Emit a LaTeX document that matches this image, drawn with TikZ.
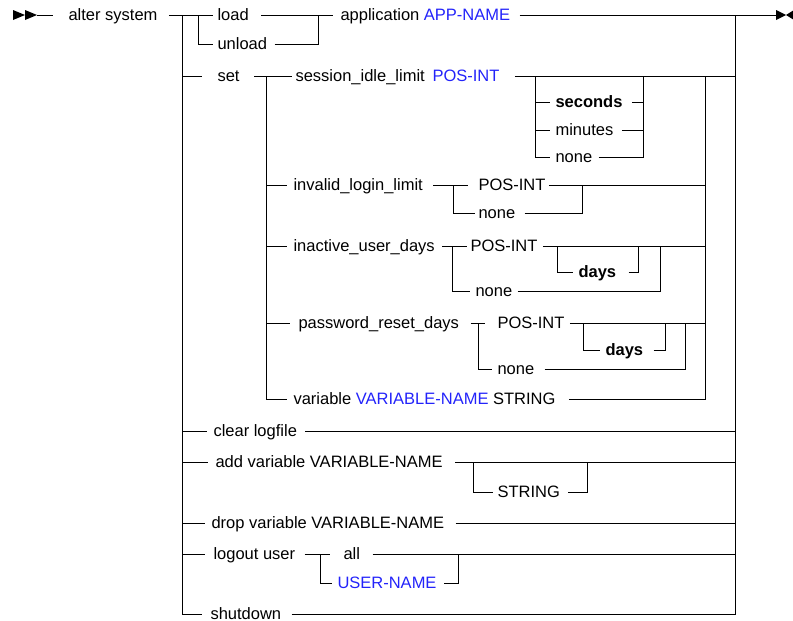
\documentclass[tikz,border=0pt]{standalone}
\usepackage{fontspec}
\setmainfont{Liberation Sans}
\definecolor{kwblue}{RGB}{35,35,250}
\begin{document}
\begin{tikzpicture}[x=1pt,y=-1pt,line width=1pt,
  lbl/.style={anchor=west,inner sep=0pt,text height=11pt,text depth=0pt,font=\fontsize{16.5}{18}\selectfont},
  kwb/.style={lbl,font=\fontsize{16.5}{18}\selectfont\bfseries},
  namelbl/.style={lbl,text=kwblue}]
\useasboundingbox (0,0) rectangle (793,621);
% labels
\node[lbl] (alt) at (68,15) {alter system};
\node[lbl] (load) at (217,15) {load};
\node[lbl] (unload) at (217,44) {unload};
\node[lbl] (app) at (340,15) {application \textcolor{kwblue}{APP-NAME}};
\node[lbl] (set) at (217,76) {set};
\node[lbl] (sil) at (295,76) {session\_idle\_limit};
\node[namelbl] (silv) at (432,76) {POS-INT};
\node[kwb] (sec) at (555,102) {seconds};
\node[lbl] (min) at (555,130) {minutes};
\node[lbl] (snone) at (555,157) {none};
\node[lbl] (ill) at (293,185) {invalid\_login\_limit};
\node[lbl] (illv) at (478,185) {POS-INT};
\node[lbl] (illn) at (478,213) {none};
\node[lbl] (iud) at (293,246) {inactive\_user\_days};
\node[lbl] (iudv) at (470,246) {POS-INT};
\node[kwb] (iudd) at (578,272) {days};
\node[lbl] (iudn) at (475,291) {none};
\node[lbl] (prd) at (298,323) {password\_reset\_days};
\node[lbl] (prdv) at (497,323) {POS-INT};
\node[kwb] (prdd) at (605,350) {days};
\node[lbl] (prdn) at (497,369) {none};
\node[lbl] (svar) at (293,399) {variable \textcolor{kwblue}{VARIABLE-NAME} STRING};
\node[lbl] (clr) at (213,431) {clear logfile};
\node[lbl] (addv) at (215,462) {add variable VARIABLE-NAME};
\node[lbl] (adds) at (497,492) {STRING};
\node[lbl] (drop) at (211,523) {drop variable VARIABLE-NAME};
\node[lbl] (lout) at (213,554) {logout user};
\node[lbl] (all) at (343,554) {all};
\node[namelbl] (uname) at (337,583) {USER-NAME};
\node[lbl] (shut) at (210,614) {shutdown};
% junctions
\coordinate (s0) at (13,15); \coordinate (s1) at (37,15);
\coordinate (L0t) at (182,15); \coordinate (L0b) at (182,614);
\coordinate (R0t) at (735,15); \coordinate (R0b) at (735,614);
\coordinate (lbB) at (198,44); \coordinate (lmB) at (318,44); \coordinate (lmT) at (318,15);
\coordinate (sbT) at (266,76); \coordinate (sbB) at (266,399); \coordinate (smB) at (705,399);
\coordinate (ssT) at (535,76); \coordinate (ssB) at (535,157); \coordinate (seT) at (643,76); \coordinate (seB) at (643,157);
\coordinate (ivT) at (453,185); \coordinate (ivB) at (453,213); \coordinate (imT) at (582,185); \coordinate (imB) at (582,213);
\coordinate (naT) at (452,246); \coordinate (naB) at (452,291);
\coordinate (ndL) at (557,246); \coordinate (ndLB) at (557,272); \coordinate (ndR) at (638,246); \coordinate (ndRB) at (638,272);
\coordinate (nmT) at (660,246); \coordinate (nmB) at (660,291);
\coordinate (pbT) at (478,323); \coordinate (pbB) at (478,369);
\coordinate (pdL) at (583,323); \coordinate (pdLB) at (583,350); \coordinate (pdR) at (665,323); \coordinate (pdRB) at (665,350);
\coordinate (pmT) at (685,323); \coordinate (pmB) at (685,369);
\coordinate (aoL) at (473,462); \coordinate (aoLB) at (473,492); \coordinate (aoR) at (587,462); \coordinate (aoRB) at (587,492);
\coordinate (loT) at (320,554); \coordinate (loB) at (320,583); \coordinate (lmT2) at (458,554); \coordinate (lmB2) at (458,583);
\coordinate (endA) at (776,15);
% start and end markers
\fill (s0) ++(0,-5) -- ++(12,5) -- ++(-12,5) -- cycle;
\fill (s0) ++(12,-5) -- ++(12,5) -- ++(-12,5) -- cycle;
\draw[shorten >=15pt] (s1) -- (alt.west);
\fill (endA) ++(0,-5) -- ++(10,5) -- ++(-10,5) -- cycle;
\fill (endA) ++(18,-5) -- ++(-8,5) -- ++(8,5) -- cycle;
% row load/unload
\draw[shorten <=11pt,shorten >=4pt] (alt.east) -- (load.west);
\draw[shorten >=4pt] (L0t -| lbB) -- (lbB) -- (unload.west);
\draw[shorten <=12pt,shorten >=7pt] (load.east) -- (app.west);
\draw[shorten <=7pt] (unload.east) -- (lmB) -- (lmT);
\draw[shorten <=9pt] (app.east) -- (endA);
% rails
\draw[shorten >=8pt] (L0t) -- (L0b) -- (shut.west);
\draw[shorten <=10pt] (shut.east) -- (R0b) -- (R0t);
% set
\draw[shorten >=15pt] (L0t |- sbT) -- (set.west);
\draw[shorten <=14pt,shorten >=3pt] (set.east) -- (sil.west);
\draw[shorten <=15pt] (silv.east) -- (R0t |- sbT);
\draw[shorten >=6pt] (sbT) -- (sbB) -- (svar.west);
\draw[shorten <=13pt] (svar.east) -- (smB) -- (smB |- sbT);
% seconds / minutes / none
\draw[shorten >=5pt] (ssT) -- (ssB) -- (snone.west);
\draw[shorten >=5pt] (ssT |- sec.west) -- (sec.west);
\draw[shorten >=5pt] (ssT |- min.west) -- (min.west);
\draw[shorten <=9pt] (sec.east) -- (seT |- sec.east);
\draw[shorten <=8pt] (min.east) -- (seT |- min.east);
\draw[shorten <=6pt] (snone.east) -- (seB) -- (seT);
% invalid_login_limit
\draw[shorten >=6pt] (sbT |- ill.west) -- (ill.west);
\draw[shorten <=10pt,shorten >=10pt] (ill.east) -- (illv.west);
\draw[shorten >=3pt] (ivT) -- (ivB) -- (illn.west);
\draw[shorten <=3pt] (illv.east) -- (smB |- illv.east);
\draw[shorten <=9pt] (illn.east) -- (imB) -- (imT);
% inactive_user_days
\draw[shorten >=6pt] (sbT |- iud.west) -- (iud.west);
\draw[shorten <=7pt,shorten >=3pt] (iud.east) -- (iudv.west);
\draw[shorten >=5pt] (naT) -- (naB) -- (iudn.west);
\draw[shorten <=5pt] (iudv.east) -- (smB |- iudv.east);
\draw[shorten >=5pt] (ndL) -- (ndLB) -- (iudd.west);
\draw[shorten <=12pt] (iudd.east) -- (ndRB) -- (ndR);
\draw[shorten <=5pt] (iudn.east) -- (nmB) -- (nmT);
% password_reset_days
\draw[shorten >=8pt] (sbT |- prd.west) -- (prd.west);
\draw[shorten <=11pt,shorten >=12pt] (prd.east) -- (prdv.west);
\draw[shorten >=5pt] (pbT) -- (pbB) -- (prdn.west);
\draw[shorten <=5pt] (prdv.east) -- (smB |- prdv.east);
\draw[shorten >=5pt] (pdL) -- (pdLB) -- (prdd.west);
\draw[shorten <=10pt] (prdd.east) -- (pdRB) -- (pdR);
\draw[shorten <=10pt] (prdn.east) -- (pmB) -- (pmT);
% clear logfile
\draw[shorten >=6pt] (L0t |- clr.west) -- (clr.west);
\draw[shorten <=8pt] (clr.east) -- (R0t |- clr.east);
% add variable
\draw[shorten >=7pt] (L0t |- addv.west) -- (addv.west);
\draw[shorten <=12pt] (addv.east) -- (R0t |- addv.east);
\draw[shorten >=4pt] (aoL) -- (aoLB) -- (adds.west);
\draw[shorten <=8pt] (adds.east) -- (aoRB) -- (aoR);
% drop variable
\draw[shorten >=6pt] (L0t |- drop.west) -- (drop.west);
\draw[shorten <=11pt] (drop.east) -- (R0t |- drop.east);
% logout user
\draw[shorten >=8pt] (L0t |- lout.west) -- (lout.west);
\draw[shorten <=9pt,shorten >=13pt] (lout.east) -- (all.west);
\draw[shorten >=5pt] (loT) -- (loB) -- (uname.west);
\draw[shorten <=12pt] (all.east) -- (R0t |- all.east);
\draw[shorten <=7pt] (uname.east) -- (lmB2) -- (lmT2);
\end{tikzpicture}
\end{document}
